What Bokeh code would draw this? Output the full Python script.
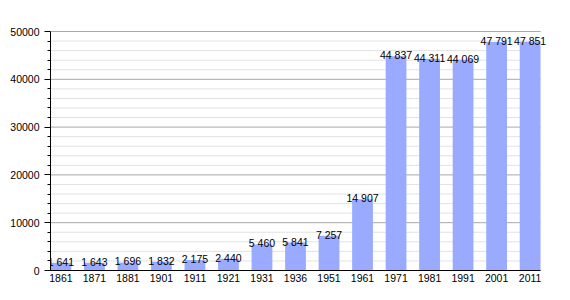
from bokeh.plotting import figure
from bokeh.models import Range1d, FixedTicker, ColumnDataSource
from bokeh.core.properties import value
from bokeh.embed import file_html
from bokeh.resources import INLINE

years = ["1861", "1871", "1881", "1901", "1911", "1921", "1931", "1936",
         "1951", "1961", "1971", "1981", "1991", "2001", "2011"]
population = [1641, 1643, 1696, 1832, 2175, 2440, 5460, 5841,
              7257, 14907, 44837, 44311, 44069, 47791, 47851]
y_ticks = [0, 10000, 20000, 30000, 40000, 50000]
y_minor = [v for v in range(2000, 50000, 2000) if v % 10000 != 0]

xs = list(range(len(years)))
labels = ["{:,}".format(v).replace(",", " ") for v in population]
src = ColumnDataSource(dict(x=xs, top=population, label=labels))

FONT = "Liberation Sans"
PAD = 0.31
x_lo, x_hi = -PAD, len(years) - 1 + PAD
px_per_unit = 490 / (x_hi - x_lo)
x_end = x_lo + 500 / px_per_unit

p = figure(width=570, height=300, output_backend="svg", toolbar_location=None,
           x_range=Range1d(x_lo, x_end),
           y_range=Range1d(0, 50000 * 255 / 239),
           min_border_left=50, min_border_right=20,
           min_border_top=15, min_border_bottom=30)
p.outline_line_color = None
p.background_fill_color = "white"

# grid lines limited to the plotting area
p.segment(x0=[x_lo] * len(y_minor), x1=[x_hi] * len(y_minor), y0=y_minor, y1=y_minor,
          line_color="#e2e2e2", line_width=1)
p.segment(x0=[x_lo] * len(y_ticks), x1=[x_hi] * len(y_ticks), y0=y_ticks, y1=y_ticks,
          line_color="#a8a8a8", line_width=1)

p.vbar(x="x", top="top", width=0.62, bottom=0, source=src,
       fill_color="#99aaff", line_color=None)
p.text(x="x", y="top", text="label", source=src, text_align="center",
       text_baseline="alphabetic", y_offset=-1,
       text_font=value(FONT), text_font_size="10.5px", text_color="black")

# x axis
p.xaxis.ticker = FixedTicker(ticks=xs)
p.xaxis.bounds = (x_lo, x_hi)
p.xaxis.major_label_overrides = {i: y for i, y in enumerate(years)}
p.xaxis.major_tick_out = 0
p.xaxis.major_tick_in = 0
p.xaxis.minor_tick_out = 0
p.xaxis.minor_tick_in = 0
p.xaxis.major_tick_line_color = None
p.xaxis.minor_tick_line_color = None
p.xaxis.major_label_standoff = 3
p.xaxis.axis_line_color = "black"
p.xaxis.major_label_text_font = FONT
p.xaxis.major_label_text_font_size = "10.5px"
p.xaxis.major_label_text_color = "black"
p.xgrid.grid_line_color = None

# y axis
p.yaxis.ticker = FixedTicker(ticks=y_ticks, minor_ticks=y_minor)
p.yaxis.bounds = (0, 50000)
p.yaxis.major_tick_out = 6
p.yaxis.major_tick_in = 0
p.yaxis.minor_tick_out = 3
p.yaxis.minor_tick_in = 0
p.yaxis.major_tick_line_color = "black"
p.yaxis.minor_tick_line_color = "black"
p.yaxis.axis_line_color = "black"
p.yaxis.major_label_standoff = 5
p.yaxis.major_label_text_font = FONT
p.yaxis.major_label_text_font_size = "10.5px"
p.yaxis.major_label_text_color = "black"
p.ygrid.grid_line_color = None
p.ygrid.minor_grid_line_color = None

open("out.html", "w").write(file_html(p, INLINE))
